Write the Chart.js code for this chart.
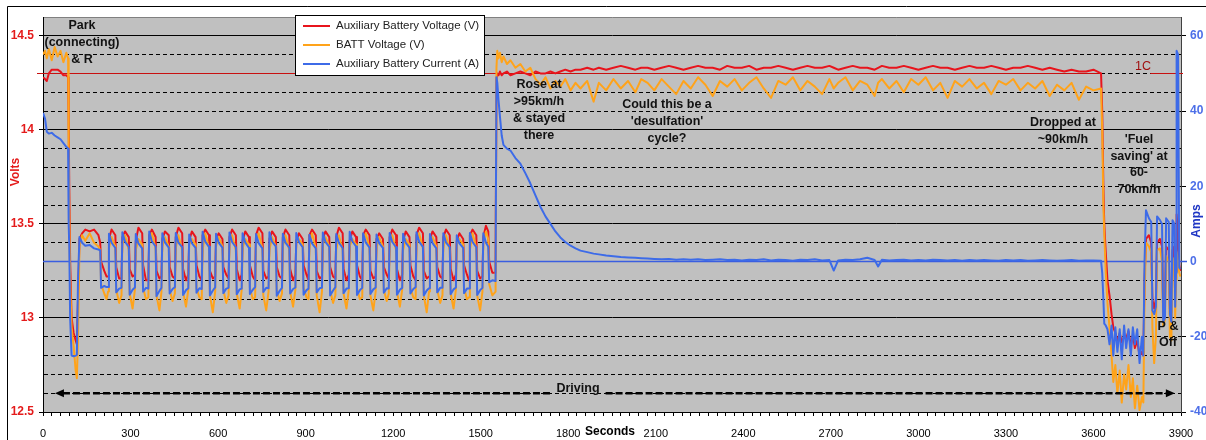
<!DOCTYPE html>
<html><head><meta charset="utf-8">
<script src="https://cdn.jsdelivr.net/npm/chart.js@4.4.1/dist/chart.umd.min.js"></script>
<style>html,body{margin:0;padding:0;background:#fff;}</style>
</head><body>
<canvas id="c" width="1206" height="440"></canvas>
<script>
// ---- data (seconds, volts, amps) ----
const seconds = [
0,7,13,20,30,40,50,60,70,80,86,88,90,93,98,105,112,116,120,125,134,145,160,175,190,196,199,210,218,
223,226,235,248,251,261,
269,272,281,294,297,307,
315,318,327,340,343,353,
361,364,373,386,389,399,
406,409,418,431,434,444,
452,455,464,477,480,490,
498,501,510,523,526,536,
544,547,556,569,572,582,
590,593,602,615,618,628,
636,639,648,661,664,674,
681,684,693,706,709,719,
727,730,739,752,755,765,
773,776,785,798,801,811,
819,822,831,844,847,857,
865,868,877,890,893,903,
910,913,922,935,938,948,
956,959,968,981,984,994,
1002,1005,1014,1027,1030,1040,
1048,1051,1060,1073,1076,1086,
1094,1097,1106,1119,1122,1132,
1140,1143,1152,1165,1168,1178,
1185,1188,1197,1210,1213,1223,
1231,1234,1243,1256,1259,1269,
1277,1280,1289,1302,1305,1315,
1323,1326,1335,1348,1351,1361,
1369,1372,1381,1394,1397,1407,
1415,1418,1427,1440,1443,1453,
1460,1463,1472,1485,1488,1498,
1506,1509,1518,1526,1529,1540,
1551,1554,1557,1561,1566,1572,1578,1590,1602,1619,1636,1653,1670,1688,1705,1722,1739,1756,1773,1790,1808,1825,1842,1865,1887,1905,1930,1955,1980,2005,2030,2050,
2072,2095,2120,2145,2170,2195,2220,2245,2270,2295,2320,2345,2370,
2395,2420,2445,2470,2495,2520,2545,2570,2595,2620,2645,2670,2695,
2710,2725,2750,2775,2800,2825,2850,2862,2875,2900,2925,2950,2975,
3000,3025,3050,3075,3100,3125,3150,3175,3200,3225,3250,3275,3300,
3325,3350,3375,3400,3425,3450,3475,3500,3525,3550,3575,3600,3626,
3630,3634,3637,3642,3648,3655,3662,3668,3675,3682,
3690,3697,3705,3712,3720,3728,3735,3742,3750,3758,
3766,3771,3775,3780,3790,3798,3802,3808,3814,3818,
3828,3835,3839,3845,3849,3858,3862,3867,3871,3877,
3880,3883,3885,3890,3894,3898
];

const auxVolts = [
14.28,14.27,14.26,14.30,14.32,14.32,14.32,14.31,14.29,14.29,14.28,14.05,13.70,13.30,13.00,12.92,12.88,12.86,13.10,13.42,13.45,13.47,13.46,13.47,13.44,13.40,13.30,13.25,13.22,
13.22,13.42,13.47,13.44,13.27,13.21,
13.21,13.43,13.46,13.43,13.26,13.22,
13.23,13.41,13.48,13.45,13.28,13.20,
13.20,13.44,13.47,13.43,13.25,13.21,
13.22,13.42,13.46,13.44,13.27,13.22,
13.21,13.43,13.48,13.45,13.26,13.20,
13.23,13.41,13.46,13.43,13.28,13.22,
13.20,13.44,13.47,13.44,13.25,13.21,
13.22,13.42,13.45,13.42,13.27,13.23,
13.21,13.43,13.47,13.44,13.26,13.20,
13.23,13.41,13.46,13.43,13.28,13.22,
13.20,13.44,13.48,13.45,13.25,13.21,
13.22,13.42,13.46,13.43,13.27,13.22,
13.21,13.43,13.47,13.44,13.26,13.20,
13.23,13.41,13.45,13.42,13.28,13.23,
13.20,13.44,13.47,13.44,13.25,13.21,
13.22,13.42,13.46,13.43,13.27,13.22,
13.21,13.43,13.48,13.45,13.26,13.20,
13.23,13.41,13.46,13.43,13.28,13.22,
13.20,13.44,13.47,13.44,13.25,13.21,
13.22,13.42,13.45,13.42,13.27,13.23,
13.21,13.43,13.47,13.44,13.26,13.20,
13.23,13.41,13.46,13.43,13.28,13.22,
13.20,13.44,13.48,13.45,13.25,13.21,
13.22,13.42,13.46,13.43,13.27,13.22,
13.21,13.43,13.47,13.44,13.26,13.20,
13.23,13.41,13.45,13.42,13.28,13.23,
13.20,13.44,13.47,13.44,13.25,13.21,
13.22,13.43,13.49,13.46,13.30,13.24,
13.24,14.27,14.30,14.29,14.31,14.29,14.30,14.31,14.29,14.30,14.31,14.30,14.29,14.31,14.30,14.30,14.31,14.30,14.31,14.32,14.31,14.32,14.32,14.33,14.32,14.33,14.32,14.33,14.34,14.33,14.32,14.33,
14.33,14.32,14.33,14.34,14.33,14.32,14.33,14.34,14.33,14.33,14.32,14.34,14.33,
14.33,14.34,14.32,14.33,14.33,14.34,14.33,14.32,14.33,14.34,14.33,14.33,14.34,
14.33,14.32,14.33,14.34,14.33,14.33,14.32,14.33,14.34,14.33,14.33,14.34,14.33,
14.32,14.33,14.34,14.33,14.33,14.32,14.33,14.34,14.33,14.33,14.34,14.33,14.32,
14.33,14.33,14.34,14.33,14.32,14.33,14.32,14.31,14.32,14.31,14.31,14.32,14.30,
14.10,13.70,13.50,13.35,13.20,13.12,13.02,12.95,12.92,12.88,
12.92,12.87,12.90,12.89,12.93,12.85,12.91,12.84,12.88,12.80,
12.82,12.80,13.20,13.42,13.44,13.40,13.10,13.05,13.10,13.40,
13.42,13.38,13.04,13.08,13.38,13.36,13.05,13.03,13.36,13.38,
13.10,13.25,13.55,13.45,13.28,13.25
];

const battVolts = [
14.40,14.42,14.38,14.43,14.37,14.44,14.39,14.42,14.36,14.41,14.38,13.90,13.55,13.20,12.95,12.85,12.72,12.68,12.90,13.38,13.44,13.41,13.45,13.40,13.38,13.36,13.18,13.13,13.10,
13.14,13.37,13.43,13.38,13.15,13.08,
13.12,13.39,13.44,13.36,13.13,13.05,
13.15,13.36,13.42,13.39,13.16,13.10,
13.11,13.40,13.45,13.37,13.12,13.04,
13.14,13.38,13.43,13.38,13.15,13.09,
13.13,13.37,13.44,13.36,13.14,13.06,
13.15,13.39,13.42,13.39,13.16,13.11,
13.10,13.36,13.45,13.37,13.12,13.03,
13.14,13.38,13.43,13.38,13.15,13.08,
13.12,13.40,13.44,13.36,13.13,13.05,
13.15,13.37,13.42,13.39,13.16,13.10,
13.11,13.39,13.45,13.37,13.12,13.04,
13.14,13.36,13.43,13.38,13.15,13.09,
13.13,13.38,13.44,13.36,13.14,13.06,
13.15,13.40,13.42,13.39,13.16,13.11,
13.10,13.37,13.45,13.37,13.12,13.03,
13.14,13.39,13.43,13.38,13.15,13.08,
13.12,13.36,13.44,13.36,13.13,13.05,
13.15,13.38,13.42,13.39,13.16,13.10,
13.11,13.40,13.45,13.37,13.12,13.04,
13.14,13.37,13.43,13.38,13.15,13.09,
13.13,13.39,13.44,13.36,13.14,13.06,
13.15,13.36,13.42,13.39,13.16,13.11,
13.10,13.38,13.45,13.37,13.12,13.03,
13.14,13.40,13.43,13.38,13.15,13.08,
13.12,13.37,13.44,13.36,13.13,13.05,
13.15,13.39,13.42,13.39,13.16,13.10,
13.11,13.36,13.45,13.37,13.12,13.04,
13.14,13.40,13.46,13.42,13.18,13.12,
13.14,14.33,14.42,14.38,14.41,14.36,14.39,14.35,14.37,14.33,14.35,14.31,14.33,14.27,14.24,14.28,14.22,14.26,14.23,14.27,14.21,14.25,14.22,14.26,14.15,14.25,14.21,14.27,14.22,14.26,14.20,14.27,
14.25,14.21,14.27,14.23,14.19,14.26,14.22,14.28,14.24,14.18,14.26,14.23,14.27,
14.21,14.25,14.28,14.22,14.17,14.26,14.24,14.28,14.21,14.26,14.23,14.19,14.27,
14.22,14.25,14.28,14.21,14.26,14.24,14.18,14.25,14.27,14.22,14.26,14.20,14.27,
14.24,14.28,14.21,14.25,14.17,14.26,14.23,14.27,14.22,14.25,14.19,14.26,14.24,
14.27,14.21,14.25,14.22,14.26,14.18,14.24,14.21,14.25,14.16,14.23,14.21,14.22,
14.00,13.60,13.45,13.25,13.08,12.95,12.80,12.66,12.75,12.60,
12.72,12.55,12.70,12.62,12.75,12.58,12.68,12.52,12.64,12.51,
12.58,12.55,13.10,13.40,13.38,13.35,12.95,12.76,12.90,13.36,
13.37,13.30,12.96,12.99,13.33,13.30,12.90,12.88,13.32,13.30,
13.00,13.20,13.35,13.30,13.24,13.22
];

const auxAmps = [
39.5,38.0,34.5,34.0,34.2,33.5,33.0,32.5,31.5,30.5,30.0,10.0,4.0,-15.0,-25.0,-25.2,-25.0,-24.8,-5.0,6.5,5.0,4.2,4.4,3.5,3.2,3.0,-7.0,-6.5,-6.8,
-6.8,7.4,5.0,3.6,-8.2,-7.2,
-7.0,7.8,5.3,3.9,-8.8,-7.5,
-6.9,7.3,4.8,3.5,-8.0,-7.0,
-7.2,8.0,5.4,4.0,-9.2,-7.8,
-7.0,7.5,5.1,3.7,-8.5,-7.3,
-6.8,7.6,5.0,3.8,-8.9,-7.6,
-7.1,7.2,4.9,3.6,-8.3,-7.1,
-7.3,7.9,5.3,3.9,-9.0,-7.7,
-6.9,7.4,5.0,3.7,-8.4,-7.2,
-7.0,7.7,5.2,3.8,-8.7,-7.4,
-7.2,7.5,5.1,3.6,-8.6,-7.5,
-6.8,7.3,4.9,3.5,-8.1,-7.0,
-7.1,7.8,5.3,4.0,-9.1,-7.8,
-7.0,7.4,5.0,3.7,-8.5,-7.3,
-6.9,7.6,5.2,3.8,-8.8,-7.6,
-7.2,7.1,4.8,3.5,-8.2,-7.1,
-7.0,7.7,5.2,3.9,-9.0,-7.7,
-6.8,7.3,5.0,3.6,-8.4,-7.2,
-7.1,7.9,5.4,4.0,-8.9,-7.6,
-7.0,7.5,5.1,3.7,-8.6,-7.4,
-6.9,7.2,4.9,3.6,-8.3,-7.1,
-7.2,7.6,5.2,3.8,-8.8,-7.5,
-7.0,7.4,5.0,3.7,-8.5,-7.3,
-6.8,7.8,5.3,3.9,-9.0,-7.7,
-7.1,7.3,4.9,3.5,-8.2,-7.0,
-7.0,7.5,5.1,3.8,-8.7,-7.4,
-6.9,7.0,4.8,3.6,-8.4,-7.2,
-7.2,7.6,5.2,3.8,-8.9,-7.6,
-7.0,7.5,5.0,3.9,-5.5,-5.0,
-5.2,49.0,47.5,43.0,38.5,33.5,31.0,30.0,29.5,27.5,26.0,23.5,20.8,17.5,14.5,12.0,10.0,8.0,6.4,5.2,4.2,3.5,2.9,2.5,2.1,1.9,1.6,1.4,1.2,1.1,1.0,0.9,
0.8,0.7,0.6,0.7,0.5,0.6,0.5,0.6,0.4,0.5,0.6,0.4,0.5,
0.3,0.5,0.4,0.6,0.3,0.5,0.4,0.2,0.5,0.4,0.6,0.3,0.4,
-2.4,0.3,0.5,0.4,0.6,1.0,0.4,-1.3,0.5,0.3,0.4,0.5,0.3,
0.4,0.3,0.5,0.4,0.3,0.4,0.2,0.4,0.3,0.4,0.3,0.2,0.4,
0.3,0.4,0.2,0.3,0.4,0.3,0.2,0.3,0.4,0.2,0.3,0.3,0.2,
-3.0,-10.0,-16.5,-17.0,-18.0,-22.0,-17.0,-25.0,-17.5,-24.0,
-18.0,-26.0,-17.0,-23.0,-18.0,-25.0,-17.5,-22.0,-18.0,-27.0,
-20.0,-25.0,0.0,13.6,11.5,10.5,-13.0,-14.0,-12.0,12.0,
11.0,10.0,-16.0,-15.0,11.5,10.5,-14.0,-16.0,11.0,10.0,
-12.0,-3.0,56.0,55.0,-1.6,-2.0
];

const timeTicks = [0,300,600,900,1200,1500,1800,2100,2400,2700,3000,3300,3600,3900];
const voltTicks = [12.5,13,13.5,14,14.5];
const ampTicks = [-40,-20,0,20,40,60];
const seriesNames = ['Auxiliary Battery Voltage (V)','BATT Voltage (V)','Auxiliary Battery Current (A)'];

// ---- drawing ----
const FONT = '"Liberation Sans", Arial, sans-serif';
const COLORS = ['#e8141c','#ffa31a','#3d6be8'];
const n = Math.min(seconds.length, auxVolts.length, battVolts.length, auxAmps.length);
const pts = arr => seconds.slice(0,n).map((t,i)=>({x:t,y:arr[i]}));
const isMajorV = v => voltTicks.some(t => Math.abs(t - v) < 1e-6);

const notes = [
  {lines:['Park','(connecting)','& R'], x:82, y:26, dy:17},
  {lines:['Rose at','>95km/h','& stayed','there'], x:539, y:85, dy:17},
  {lines:['Could this be a',"'desulfation'",'cycle?'], x:667, y:105, dy:17},
  {lines:['Dropped at','~90km/h'], x:1063, y:123, dy:17},
  {lines:["'Fuel","saving' at",'60-','70km/h'], x:1139, y:140, dy:16.5},
  {lines:['P &','Off'], x:1168, y:327, dy:16}
];

const decor = {
  id:'decor',
  beforeDraw(chart){
    const {ctx, chartArea:a} = chart;
    ctx.save();
    ctx.fillStyle='#fff'; ctx.fillRect(0,0,chart.width,chart.height);
    ctx.fillStyle='#c0c0c0'; ctx.fillRect(a.left,a.top,a.right-a.left,a.bottom-a.top);
    ctx.strokeStyle='#000'; ctx.lineWidth=1;
    ctx.beginPath(); ctx.moveTo(7.5,chart.height); ctx.lineTo(7.5,6.5); ctx.lineTo(chart.width,6.5); ctx.stroke();
    ctx.restore();
  },
  beforeDatasetsDraw(chart){
    const {ctx, chartArea:a, scales} = chart;
    ctx.save();
    const y1c = Math.round(scales.y.getPixelForValue(14.3))+0.5;
    ctx.strokeStyle='#c81010'; ctx.lineWidth=1;
    ctx.beginPath();
    ctx.moveTo(a.left-6,y1c); ctx.lineTo(scales.x.getPixelForValue(3626),y1c);
    ctx.moveTo(scales.x.getPixelForValue(3795),y1c); ctx.lineTo(a.right+2,y1c);
    ctx.stroke();
    const y0 = scales.y2.getPixelForValue(0);
    ctx.strokeStyle='#3a5ee0'; ctx.lineWidth=1.5;
    ctx.beginPath(); ctx.moveTo(a.left,y0); ctx.lineTo(a.right+6,y0); ctx.stroke();
    ctx.restore();
  },
  afterDatasetsDraw(chart){
    const {ctx, scales} = chart;
    ctx.save();
    // Driving arrow
    const yA = scales.y.getPixelForValue(12.6);
    const xL = scales.x.getPixelForValue(41), xR = scales.x.getPixelForValue(3879);
    const gL = scales.x.getPixelForValue(1746), gR = scales.x.getPixelForValue(1928);
    ctx.strokeStyle='#000'; ctx.lineWidth=2.5; ctx.setLineDash([7,3]);
    ctx.beginPath(); ctx.moveTo(xL+8,yA); ctx.lineTo(gL,yA); ctx.moveTo(gR,yA); ctx.lineTo(xR-8,yA); ctx.stroke();
    ctx.setLineDash([]);
    ctx.fillStyle='#000';
    ctx.beginPath(); ctx.moveTo(xL,yA); ctx.lineTo(xL+9,yA-4); ctx.lineTo(xL+9,yA+4); ctx.closePath(); ctx.fill();
    ctx.beginPath(); ctx.moveTo(xR,yA); ctx.lineTo(xR-9,yA-4); ctx.lineTo(xR-9,yA+4); ctx.closePath(); ctx.fill();
    // notes
    ctx.font = 'bold 12.5px '+FONT; ctx.fillStyle='#111'; ctx.textAlign='center'; ctx.textBaseline='middle';
    ctx.fillText('Driving', 578, 389);
    notes.forEach(nt => nt.lines.forEach((l,i) => ctx.fillText(l, nt.x, nt.y + i*nt.dy)));
    ctx.font = '12.5px '+FONT; ctx.fillStyle='#a01010';
    ctx.fillText('1C', 1143, 67);
    // legend
    ctx.fillStyle='#fff'; ctx.fillRect(295,15,190,61);
    ctx.strokeStyle='#000'; ctx.lineWidth=1; ctx.strokeRect(295.5,15.5,189,60);
    ctx.font = '11.5px '+FONT; ctx.textAlign='left';
    seriesNames.forEach((s,i) => {
      const y = 26 + i*19;
      ctx.strokeStyle = COLORS[i]; ctx.lineWidth = 2;
      ctx.beginPath(); ctx.moveTo(303,y); ctx.lineTo(330,y); ctx.stroke();
      ctx.fillStyle='#222'; ctx.fillText(s, 336, y);
    });
    ctx.restore();
  },
  afterDraw(chart){
    const {ctx} = chart;
    ctx.save();
    ctx.textAlign='center'; ctx.textBaseline='middle';
    ctx.font='bold 12px '+FONT; ctx.fillStyle='#000';
    ctx.fillText('Seconds', 610, 432);
    ctx.translate(16,172); ctx.rotate(-Math.PI/2);
    ctx.fillStyle='#e41b1b'; ctx.fillText('Volts',0,0);
    ctx.restore();
    ctx.save();
    ctx.textAlign='center'; ctx.textBaseline='middle';
    ctx.font='bold 12px '+FONT;
    ctx.translate(1197,221); ctx.rotate(-Math.PI/2);
    ctx.fillStyle='#1f36c4'; ctx.fillText('Amps',0,0);
    ctx.restore();
  }
};

new Chart(document.getElementById('c'), {
  type:'line',
  data:{datasets:[
    {label:seriesNames[0], data:pts(auxVolts), borderColor:COLORS[0], yAxisID:'y', order:3},
    {label:seriesNames[1], data:pts(battVolts), borderColor:COLORS[1], yAxisID:'y', order:2},
    {label:seriesNames[2], data:pts(auxAmps), borderColor:COLORS[2], yAxisID:'y2', order:1}
  ]},
  options:{
    responsive:false, animation:false, devicePixelRatio:1,
    layout:{padding:{top:17,left:0,right:0,bottom:0}},
    plugins:{legend:{display:false}, tooltip:{enabled:false}},
    elements:{line:{tension:0, borderWidth:2, borderJoinStyle:'round'}, point:{radius:0}},
    scales:{
      x:{type:'linear', min:0, max:3900,
        afterFit(s){ s.height = 28; },
        ticks:{stepSize:30, autoSkip:false, maxRotation:0, minRotation:0, padding:11, color:'#000',
          font:{family:FONT, size:11},
          callback:v => timeTicks.includes(v) ? String(v) : ''},
        grid:{display:true, drawOnChartArea:false, drawTicks:true, tickLength:4, tickColor:'#000'},
        border:{display:true, color:'#000', width:1}},
      y:{position:'left', min:12.5, max:14.6,
        afterFit(s){ s.width = 43; },
        ticks:{stepSize:0.1, autoSkip:false, padding:5, color:'#e41b1b',
          font:{family:FONT, size:12, weight:'bold'},
          callback:v => { const m = voltTicks.find(t => Math.abs(t - v) < 1e-6); return m === undefined ? '' : String(m); }},
        grid:{lineWidth:1, tickLength:4,
          color:ctx => (ctx.tick && ctx.tick.value > 14.59) ? '#808080' : '#000',
          tickColor:ctx => (ctx.tick && isMajorV(ctx.tick.value)) ? '#000' : 'rgba(0,0,0,0)'},
        border:{display:true, color:'#000', width:1,
          dash:ctx => (ctx.type === 'tick' && ctx.tick && !isMajorV(ctx.tick.value) && ctx.tick.value < 14.59) ? [4,3] : []}},
      y2:{position:'right', min:-40, max:65,
        afterFit(s){ s.width = 25; },
        afterBuildTicks(s){ s.ticks = ampTicks.map(v => ({value:v})); },
        ticks:{padding:4, color:'#4d6fe8', font:{family:FONT, size:12, weight:'bold'}, callback:v => String(v)},
        grid:{drawOnChartArea:false, tickLength:5, tickColor:'#000'},
        border:{display:true, color:'#404040', width:1}}
    }
  },
  plugins:[decor]
});
</script>
</body></html>
